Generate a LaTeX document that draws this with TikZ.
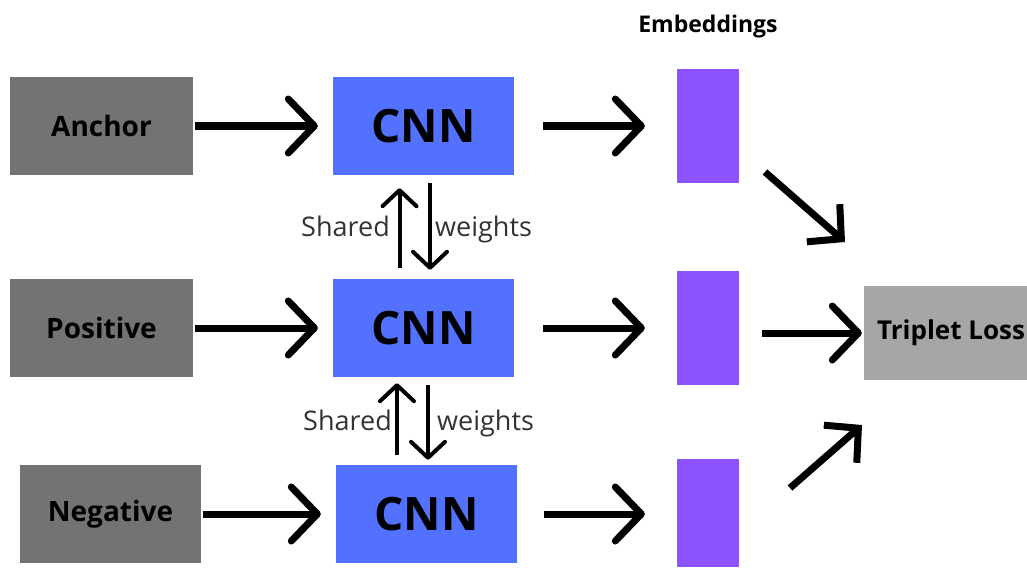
\documentclass[tikz,border=0pt]{standalone}
\usepackage{fontspec}
\setmainfont{Open Sans}
\usetikzlibrary{arrows.meta}
\definecolor{inputgray}{HTML}{737373}
\definecolor{cnnblue}{HTML}{5271FF}
\definecolor{embpurple}{HTML}{8C52FF}
\definecolor{lossgray}{HTML}{A6A6A6}
\tikzset{
  box/.style={inner sep=0pt, draw=none, font=\bfseries},
  inbox/.style={box, fill=inputgray, minimum width=183pt, minimum height=98pt, font=\bfseries\fontsize{28}{28}\selectfont},
  cnnbox/.style={box, fill=cnnblue, minimum width=181pt, minimum height=98pt, font=\bfseries\fontsize{46}{46}\selectfont},
  embbox/.style={box, fill=embpurple, minimum width=62pt},
  flow/.style={line width=7pt, -{Straight Barb[length=26pt, width=54pt, line width=7pt, round]}},
  diag/.style={line width=7pt, -{Straight Barb[length=24pt, width=50pt, line width=7pt]}},
  share/.style={line width=4pt, -{Straight Barb[length=16pt, width=34pt, line width=4pt, round]}},
  lbl/.style={inner sep=0pt, text=black!80, font=\fontsize{27}{27}\selectfont},
}
\begin{document}
\begin{tikzpicture}[x=1pt, y=-1pt]
\useasboundingbox (0,0) rectangle (1027,567);

% inputs
\node[inbox] (anchor) at (101.5,126) {Anchor};
\node[inbox] (positive) at (101.5,328) {Positive};
\node[inbox, minimum width=181pt] (negative) at (110.5,514) {Negative};

% shared CNN branches
\node[cnnbox] (c1) at (423.5,126) {CNN};
\node[cnnbox] (c2) at (423.5,328) {CNN};
\node[cnnbox] (c3) at (426.5,514) {CNN};

% embeddings
\node[font=\bfseries\fontsize{23}{23}\selectfont, inner sep=0pt] (embt) at (708,27) {Embeddings};
\node[embbox, minimum height=114pt] (e1) at (708,126) {};
\node[embbox, minimum height=114pt] (e2) at (708,328) {};
\node[embbox, minimum height=108pt] (e3) at (708,513) {};

% loss
\node[box, fill=lossgray, minimum width=163pt, minimum height=94pt, font=\bfseries\fontsize{26}{26}\selectfont] (loss) at (945.5,333) {\hspace*{11pt}Triplet Loss};

% input -> CNN
\draw[flow, shorten <=2pt, shorten >=15pt] (anchor.east) -- (c1.west);
\draw[flow, shorten <=2pt, shorten >=15pt] (positive.east) -- (c2.west);
\draw[flow, shorten <=2pt, shorten >=15pt] (negative.east) -- (c3.west);

% CNN -> embedding
\draw[flow, shorten <=29pt, shorten >=32pt] (c1.east) -- (e1.west);
\draw[flow, shorten <=29pt, shorten >=32pt] (c2.east) -- (e2.west);
\draw[flow, shorten <=27pt, shorten >=32pt] (c3.east) -- (e3.west |- c3.east);

% embedding -> loss
\coordinate (t1) at (765,172);
\coordinate (h1) at (845,242);
\coordinate (t3) at (790,488);
\coordinate (h3) at (862,425);
\draw[diag] (t1) -- (h1);
\draw[flow, shorten <=23pt, shorten >=2pt] (e2.east |- loss.west) -- (loss.west);
\draw[diag] (t3) -- (h3);

% shared weights between branches
\draw[share, shorten <=11pt, shorten >=13pt] ([xshift=-24pt]c2.north) -- ([xshift=-24pt]c1.south);
\draw[share, shorten <=8pt, shorten >=9pt] ([xshift=6.5pt]c1.south) -- ([xshift=6.5pt]c2.north);
\node[lbl, anchor=base east] (s1) at (390,236) {Shared};
\node[lbl, anchor=base west] (w1) at (435,236) {weights};

\draw[share, shorten <=10pt, shorten >=6pt] ([xshift=-29.5pt]c3.north) -- ([xshift=-26.5pt]c2.south);
\draw[share, shorten <=8pt, shorten >=5pt] ([xshift=4.5pt]c2.south) -- ([xshift=1.5pt]c3.north);
\node[lbl, anchor=base east] (s2) at (392,430) {Shared};
\node[lbl, anchor=base west] (w2) at (437,430) {weights};
\end{tikzpicture}
\end{document}
